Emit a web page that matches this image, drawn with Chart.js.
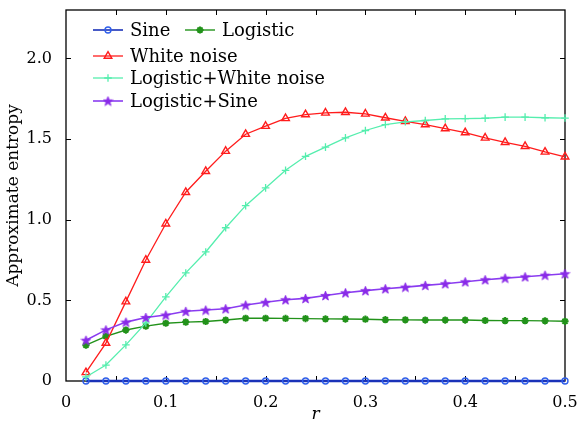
<!DOCTYPE html>
<html>
<head>
<meta charset="utf-8">
<script src="https://cdn.jsdelivr.net/npm/chart.js@4.4.1/dist/chart.umd.min.js"></script>
<style>
  html, body { margin: 0; padding: 0; background: #fff; }
  #wrap { width: 579px; height: 423px; position: relative; }
</style>
</head>
<body>
<div id="wrap"><canvas id="myChart" width="579" height="423"></canvas></div>
<script>
// data
const rValues = [0.02, 0.04, 0.06, 0.08, 0.10, 0.12, 0.14, 0.16, 0.18, 0.20, 0.22, 0.24, 0.26,
                 0.28, 0.30, 0.32, 0.34, 0.36, 0.38, 0.40, 0.42, 0.44, 0.46, 0.48, 0.50];
const sine = [0, 0, 0, 0, 0, 0, 0, 0, 0, 0, 0, 0, 0, 0, 0, 0, 0, 0, 0, 0, 0, 0, 0, 0, 0];
const logistic = [0.222, 0.277, 0.316, 0.340, 0.358, 0.365, 0.369, 0.378, 0.389, 0.389, 0.388, 0.387, 0.385,
                  0.384, 0.383, 0.380, 0.379, 0.378, 0.378, 0.378, 0.375, 0.374, 0.374, 0.373, 0.370];
const whiteNoise = [0.053, 0.235, 0.492, 0.750, 0.975, 1.170, 1.300, 1.425, 1.530, 1.580, 1.628, 1.652, 1.662,
                    1.666, 1.656, 1.632, 1.610, 1.590, 1.565, 1.540, 1.507, 1.480, 1.455, 1.420, 1.390];
const logisticWhite = [0.025, 0.099, 0.224, 0.360, 0.522, 0.670, 0.800, 0.950, 1.087, 1.197, 1.306, 1.393, 1.450,
                       1.507, 1.553, 1.590, 1.607, 1.615, 1.625, 1.627, 1.629, 1.636, 1.636, 1.632, 1.630];
const logisticSine = [0.253, 0.317, 0.365, 0.394, 0.409, 0.432, 0.440, 0.448, 0.471, 0.488, 0.504, 0.512, 0.530,
                      0.547, 0.560, 0.572, 0.582, 0.593, 0.603, 0.615, 0.628, 0.638, 0.646, 0.656, 0.665];
const seriesNames = ['Sine', 'Logistic', 'White noise', 'Logistic+White noise', 'Logistic+Sine'];
const xTickLabels = ['0', '0.1', '0.2', '0.3', '0.4', '0.5'];
const yTickLabels = ['0', '0.5', '1.0', '1.5', '2.0'];

const FONT = '"DejaVu Serif", serif';

// filled pentagram marker for Logistic+Sine
function makePentagram(color, size) {
    const c = document.createElement('canvas');
    c.width = size; c.height = size;
    const g = c.getContext('2d');
    const cx = size / 2, cy = size / 2 + 0.5, ro = size / 2 - 0.5, ri = ro * 0.42;
    g.beginPath();
    for (let i = 0; i < 10; i++) {
        const a = -Math.PI / 2 + i * Math.PI / 5;
        const rr = i % 2 === 0 ? ro : ri;
        g.lineTo(cx + rr * Math.cos(a), cy + rr * Math.sin(a));
    }
    g.closePath();
    g.fillStyle = color;
    g.fill();
    g.strokeStyle = color;
    g.lineWidth = 0.8;
    g.stroke();
    return c;
}

const pentagram = makePentagram('#8a2be8', 11);

const toPoints = vals => vals.map((v, i) => ({ x: rValues[i], y: v }));

const styles = [
    { line: '#1a32b8', mark: '#2f5fea', pointStyle: 'circle', radius: 3, bw: 2.4, pbw: 1.4, fill: 'rgba(0,0,0,0)' },
    { line: '#22921a', mark: '#22921a', pointStyle: 'star', radius: 3.6, bw: 1.4, pbw: 2, fill: '#22921a' },
    { line: '#ff1c1c', mark: '#ff1c1c', pointStyle: 'triangle', radius: 4.4, bw: 1.3, pbw: 1.4, fill: 'rgba(0,0,0,0)' },
    { line: '#55eeae', mark: '#55eeae', pointStyle: 'cross', radius: 3.8, bw: 1.3, pbw: 1.3, fill: '#55eeae' },
    { line: '#8a3cf0', mark: '#8a2be8', pointStyle: pentagram, radius: 5, bw: 1.6, pbw: 1, fill: '#8a2be8' }
];
const allSeries = [sine, logistic, whiteNoise, logisticWhite, logisticSine];

const datasets = allSeries.map((vals, i) => ({
    label: seriesNames[i],
    data: toPoints(vals),
    borderColor: styles[i].line,
    borderWidth: styles[i].bw,
    pointStyle: styles[i].pointStyle,
    pointRadius: styles[i].radius,
    pointBorderColor: styles[i].mark,
    pointBackgroundColor: styles[i].fill,
    pointBorderWidth: styles[i].pbw,
    tension: 0,
    clip: false,
    order: -i
}));

// box round the plot with inward ticks
const frameTicks = {
    id: 'frameTicks',
    beforeDatasetsDraw(chart) {
        const { ctx, chartArea: a, scales: { x, y } } = chart;
        ctx.save();
        ctx.strokeStyle = '#000';
        ctx.lineWidth = 1.3;
        ctx.strokeRect(a.left, a.top, a.right - a.left, a.bottom - a.top);
        ctx.lineWidth = 1;
        ctx.beginPath();
        x.ticks.forEach(t => {
            const px = Math.round(x.getPixelForValue(t.value)) + 0.5;
            if (px <= a.left + 1 || px >= a.right - 1) return;
            ctx.moveTo(px, a.bottom); ctx.lineTo(px, a.bottom - 5);
            ctx.moveTo(px, a.top); ctx.lineTo(px, a.top + 5);
        });
        y.ticks.forEach(t => {
            if (Math.abs(t.value * 2 - Math.round(t.value * 2)) > 1e-6) return;
            const py = Math.round(y.getPixelForValue(t.value)) + 0.5;
            if (py >= a.bottom - 1 || py <= a.top + 1) return;
            ctx.moveTo(a.left, py); ctx.lineTo(a.left + 5, py);
            ctx.moveTo(a.right, py); ctx.lineTo(a.right - 5, py);
        });
        ctx.stroke();
        ctx.restore();
    }
};

// legend laid out like the original: two on the first row, then one per row
const boxLegend = {
    id: 'boxLegend',
    afterDraw(chart) {
        const { ctx, chartArea: a } = chart;
        const rows = [
            { dx: 27, dy: 20 }, { dx: 119, dy: 20 },
            { dx: 27, dy: 46 }, { dx: 27, dy: 68 }, { dx: 27, dy: 91 }
        ];
        ctx.save();
        ctx.font = '18px ' + FONT;
        ctx.textBaseline = 'middle';
        rows.forEach((r, i) => {
            const ds = chart.data.datasets[i];
            const x0 = a.left + r.dx, yy = a.top + r.dy;
            ctx.strokeStyle = ds.borderColor;
            ctx.lineWidth = Math.min(ds.borderWidth, 1.6);
            ctx.beginPath();
            ctx.moveTo(x0, yy); ctx.lineTo(x0 + 30, yy);
            ctx.stroke();
            ctx.strokeStyle = ds.pointBorderColor;
            ctx.fillStyle = ds.pointBackgroundColor;
            ctx.lineWidth = ds.pointBorderWidth;
            Chart.helpers.drawPoint(ctx, {
                pointStyle: ds.pointStyle, radius: ds.pointRadius,
                rotation: 0, borderWidth: ds.pointBorderWidth
            }, x0 + 15, yy);
            ctx.fillStyle = '#000';
            ctx.fillText(ds.label, x0 + 37, yy + 1);
        });
        ctx.restore();
    }
};

const onTenth = v => Math.abs(v * 10 - Math.round(v * 10)) < 1e-6;
const onHalf = v => Math.abs(v * 2 - Math.round(v * 2)) < 1e-6;

new Chart(document.getElementById('myChart').getContext('2d'), {
    type: 'line',
    data: { datasets: datasets },
    plugins: [frameTicks, boxLegend],
    options: {
        responsive: false,
        animation: false,
        events: [],
        layout: { padding: { top: 10, right: 14, left: 0, bottom: 0 } },
        plugins: { legend: { display: false }, tooltip: { enabled: false } },
        scales: {
            x: {
                type: 'linear',
                min: 0, max: 0.5,
                grid: { display: false },
                border: { display: false },
                afterFit: s => { s.height = 42; s.paddingLeft = 0; s.paddingRight = 0; },
                ticks: {
                    stepSize: 0.05,
                    autoSkip: false,
                    maxRotation: 0,
                    padding: 4,
                    color: '#000',
                    font: { family: FONT, size: 16 },
                    callback: v => onTenth(v) ? xTickLabels[Math.round(v * 10)] : ''
                },
                title: {
                    display: true, text: 'r', color: '#000',
                    font: { family: FONT, size: 17, style: 'italic' },
                    padding: { top: 0, bottom: -2 }
                }
            },
            y: {
                min: 0, max: 2.3,
                grid: { display: false },
                border: { display: false },
                afterFit: s => { s.width = 66; s.paddingTop = 0; s.paddingBottom = 0; },
                ticks: {
                    stepSize: 0.5,
                    padding: 6,
                    color: '#000',
                    font: { family: FONT, size: 16 },
                    callback: v => onHalf(v) ? yTickLabels[Math.round(v * 2)] : ''
                },
                title: {
                    display: true, text: 'Approximate entropy', color: '#000',
                    font: { family: FONT, size: 17 },
                    padding: { top: 3, bottom: 0 }
                }
            }
        }
    }
});
</script>
</body>
</html>
